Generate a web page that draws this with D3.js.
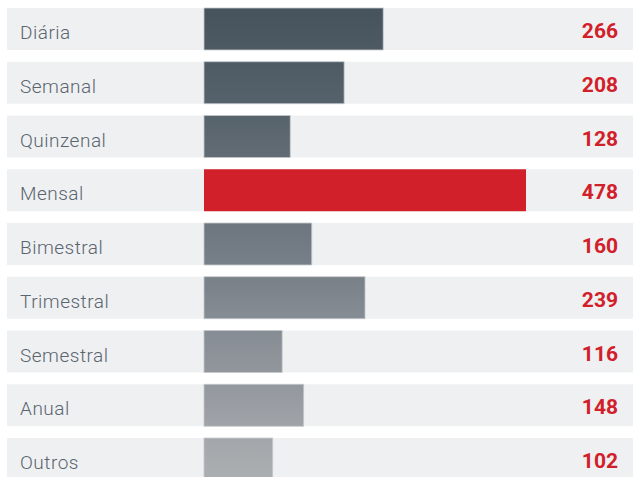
<!DOCTYPE html>
<html><head><meta charset="utf-8">
<script src="https://cdn.jsdelivr.net/npm/d3@7"></script>
<style>html,body{margin:0;padding:0;background:#fff;overflow:hidden}</style>
</head><body>
<svg id="chart" width="633" height="477"></svg>
<script>
const categories = ["Diária","Semanal","Quinzenal","Mensal","Bimestral","Trimestral","Semestral","Anual","Outros"];
const values = [266,208,128,478,160,239,116,148,102];
const topColors = ["#46535c","#4f5b64","#57636b","#d2202a","#6d767f","#788088","#868c93","#93979e","#a3a6aa"];
const bottomColors = ["#4d5a63","#56626b","#626c74","#d2202a","#778089","#868c93","#92979d","#a0a4a9","#acafb2"];

const svg = d3.select("#chart");
const W = 633;
const y = d3.scaleBand().domain(categories).range([8, 480]).paddingInner(0.219).paddingOuter(0);
const x = d3.scaleLinear().domain([0, 478]).range([204, 526]);

const defs = svg.append("defs");
categories.forEach((c,i)=>{
  const g = defs.append("linearGradient").attr("id","g"+i).attr("x1",0).attr("y1",0).attr("x2",0).attr("y2",1);
  g.append("stop").attr("offset","0%").attr("stop-color",topColors[i]);
  g.append("stop").attr("offset","100%").attr("stop-color",bottomColors[i]);
});

const rows = svg.selectAll("g.row").data(categories).enter().append("g").attr("class","row");
rows.append("rect").attr("x",7).attr("width",W-7)
  .attr("y",d=>y(d)).attr("height",y.bandwidth()).attr("fill","#eff0f2");
rows.append("rect").attr("x",x(0)).attr("y",d=>y(d))
  .attr("width",(d,i)=>x(values[i])-x(0)).attr("height",y.bandwidth())
  .attr("fill",(d,i)=>"url(#g"+i+")")
  .attr("stroke",(d,i)=>i===3?"none":"#c4c8cc").attr("stroke-width",0.8);
rows.append("text").attr("x",20).attr("y",d=>y(d)+31)
  .attr("font-family","Roboto, 'Open Sans', sans-serif").attr("font-weight",300)
  .attr("font-size",19).attr("letter-spacing",0.5).attr("fill","#5a656e").text(d=>d);
rows.append("text").attr("x",618).attr("y",d=>y(d)+30)
  .attr("text-anchor","end").attr("font-family","Roboto, 'Open Sans', sans-serif").attr("font-weight",700)
  .attr("font-size",21).attr("fill","#d2202a").text((d,i)=>values[i]);
</script>
</body></html>
